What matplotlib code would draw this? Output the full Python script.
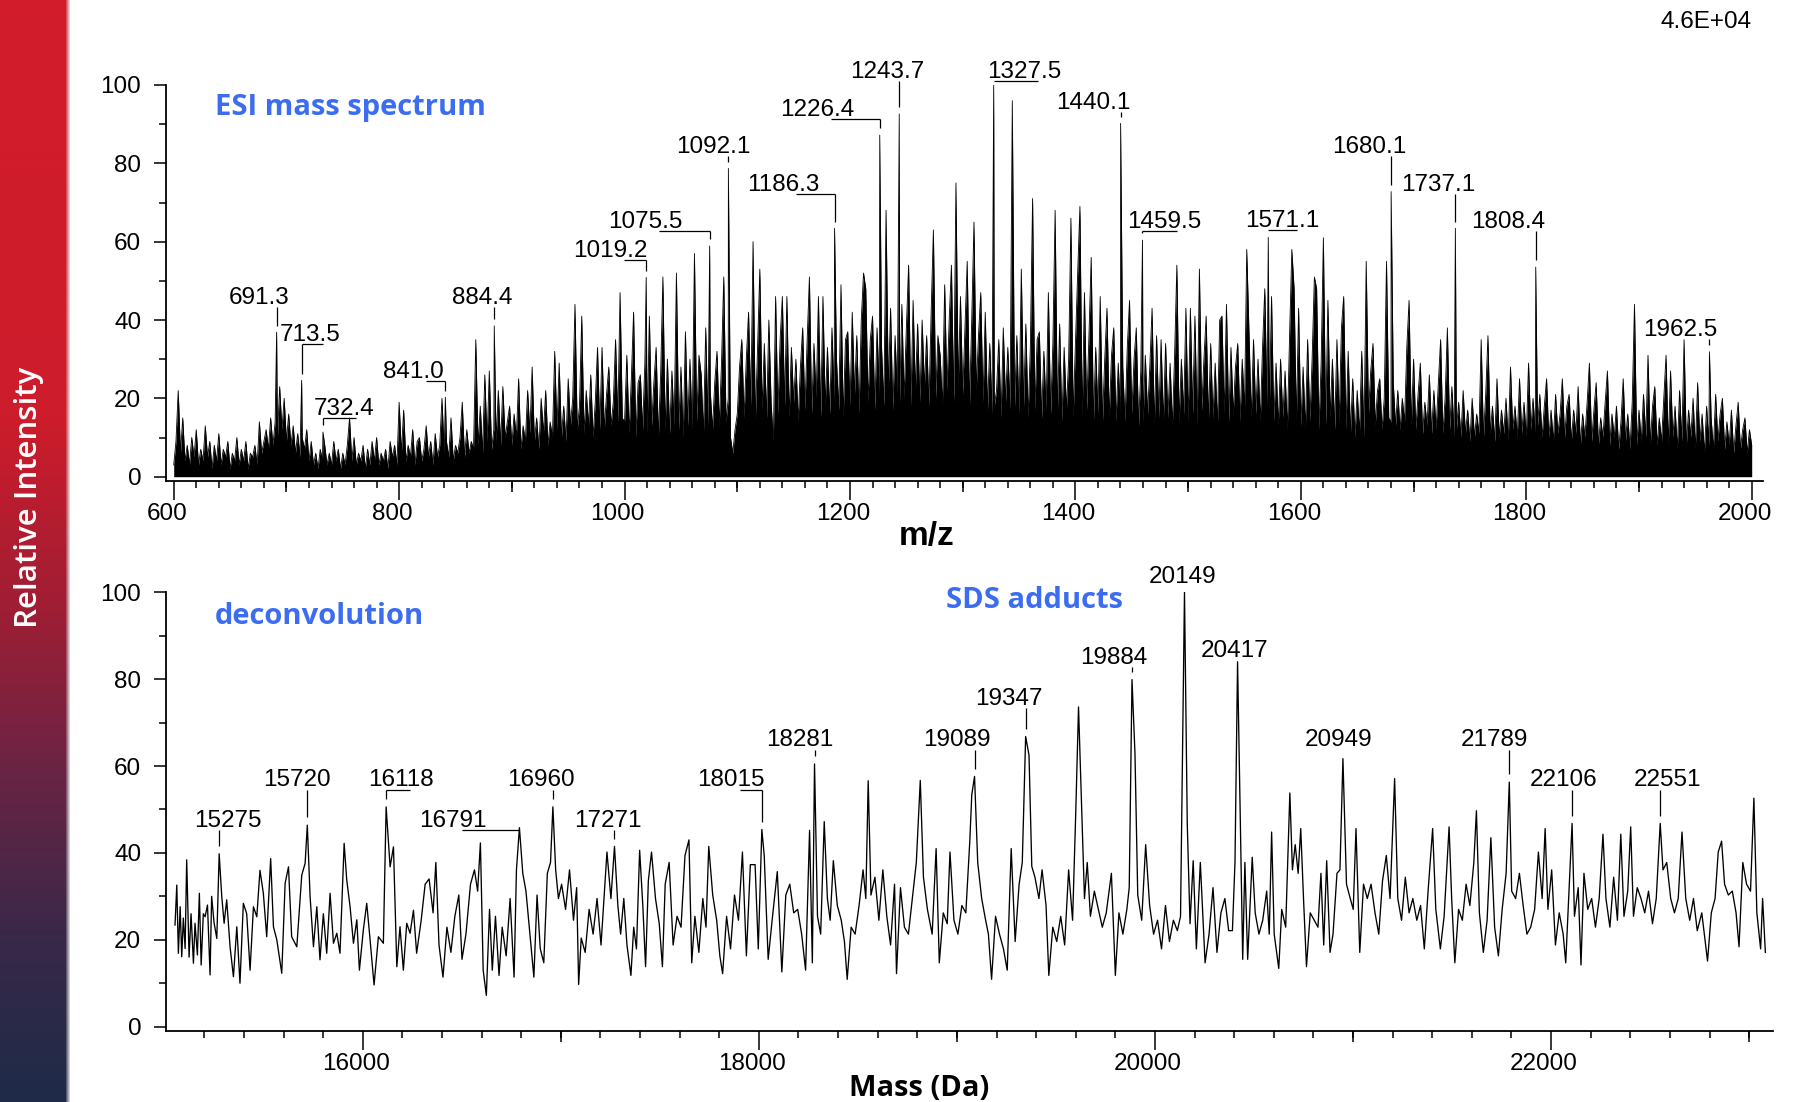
import numpy as np
import matplotlib
matplotlib.use("Agg")
import matplotlib.pyplot as plt
from matplotlib.colors import LinearSegmentedColormap
from matplotlib.ticker import MultipleLocator, FixedLocator
from matplotlib.transforms import ScaledTranslation

plt.rcParams["font.family"] = ["Liberation Sans", "DejaVu Sans"]

# ---------------- ESI mass spectrum (profile, 2 m/z sampling from 600) ----------------
esi_mz_start = 600
esi_mz_step = 2
esi_intensity = [
    3, 9, 22, 6, 15, 4, 8, 3, 10, 5,        # 600
    12, 3, 7, 4, 13, 5, 9, 2, 8, 4,         # 620
    11, 3, 7, 5, 9, 2, 6, 4, 10, 3,         # 640
    7, 4, 9, 2, 6, 5, 8, 3, 14, 6,          # 660
    9, 12, 7, 15, 8, 14, 10, 23, 12, 20,    # 680
    9, 16, 8, 13, 6, 11, 5, 10, 7, 12,      # 700
    4, 9, 3, 6, 2, 7, 4, 8, 3, 6,           # 720
    3, 9, 4, 7, 2, 6, 3, 8, 15, 4,          # 740
    10, 3, 6, 4, 8, 2, 7, 3, 9, 4,          # 760
    10, 3, 6, 4, 7, 2, 9, 5, 8, 3,          # 780
    19, 6, 17, 4, 8, 5, 12, 3, 9, 10,       # 800
    4, 7, 13, 5, 9, 3, 11, 5, 8, 20,        # 820
    6, 9, 5, 15, 4, 8, 6, 10, 19, 5,        # 840
    12, 6, 9, 7, 35, 8, 18, 6, 26, 9,       # 860
    27, 7, 12, 9, 22, 8, 23, 10, 14, 18,    # 880
    8, 16, 10, 25, 7, 13, 9, 22, 11, 28,    # 900
    9, 15, 7, 20, 11, 22, 8, 14, 10, 32,    # 920
    12, 29, 10, 18, 9, 25, 13, 20, 44, 12,  # 940
    18, 41, 11, 22, 13, 26, 10, 19, 33, 12, # 960
    33, 12, 21, 28, 13, 19, 35, 14, 47, 15, # 980
    14, 31, 11, 25, 42, 10, 24, 26, 12, 29, # 1000
    11, 41, 13, 24, 33, 10, 26, 51, 12, 30, # 1020
    11, 27, 13, 52, 12, 28, 10, 37, 13, 30, # 1040
    12, 57, 14, 31, 26, 11, 38, 13, 22, 12, # 1060
    24, 32, 13, 29, 51, 14, 20, 10, 6, 12,  # 1080
    16, 28, 35, 15, 30, 42, 18, 60, 14, 33, # 1100
    53, 17, 34, 15, 40, 19, 9, 46, 16, 35,  # 1120
    46, 18, 46, 15, 33, 19, 30, 14, 28, 38, # 1140
    17, 35, 51, 16, 34, 20, 46, 15, 46, 18, # 1160
    33, 16, 38, 19, 30, 17, 49, 15, 35, 37, # 1180
    18, 42, 21, 36, 16, 40, 52, 48, 19, 35, # 1200
    41, 17, 38, 21, 33, 18, 68, 22, 43, 17, # 1220
    36, 21, 19, 44, 20, 38, 54, 18, 45, 22, # 1240
    39, 19, 40, 23, 36, 18, 42, 63, 20, 36, # 1260
    31, 18, 49, 22, 40, 54, 19, 75, 23, 46, # 1280
    21, 38, 55, 18, 40, 65, 22, 36, 47, 19, # 1300
    42, 17, 34, 16, 18, 22, 35, 15, 38, 19, # 1320
    33, 17, 96, 18, 36, 16, 53, 18, 39, 15, # 1340
    33, 71, 17, 35, 37, 15, 32, 17, 47, 16, # 1360
    34, 68, 16, 39, 14, 33, 17, 30, 66, 15, # 1380
    34, 52, 69, 15, 47, 17, 36, 56, 14, 33, # 1400
    16, 46, 14, 30, 43, 15, 31, 38, 14, 29, # 1420
    15, 28, 14, 33, 45, 16, 30, 38, 13, 27, # 1440
    14, 31, 16, 28, 43, 13, 36, 15, 35, 14, # 1460
    34, 15, 29, 13, 31, 54, 14, 30, 16, 43, # 1480
    14, 43, 16, 41, 13, 53, 17, 30, 41, 14, # 1500
    34, 15, 29, 13, 40, 41, 16, 44, 14, 33, # 1520
    16, 28, 34, 14, 30, 17, 58, 37, 15, 35, # 1540
    16, 30, 14, 33, 48, 18, 17, 46, 14, 29, # 1560
    13, 30, 15, 27, 12, 36, 58, 48, 14, 43, # 1580
    13, 28, 12, 35, 14, 30, 51, 48, 12, 29, # 1600
    61, 13, 45, 15, 30, 12, 35, 14, 38, 46, # 1620
    12, 32, 11, 25, 10, 22, 11, 32, 10, 55, # 1640
    16, 27, 34, 13, 22, 25, 12, 20, 55, 15, # 1660
    14, 24, 13, 22, 12, 20, 14, 33, 45, 13, # 1680
    30, 12, 21, 29, 11, 19, 13, 26, 11, 22, # 1700
    12, 24, 35, 11, 20, 38, 12, 23, 10, 12, # 1720
    19, 10, 22, 11, 17, 9, 20, 10, 16, 11,  # 1740
    35, 10, 21, 36, 11, 18, 9, 25, 10, 17,  # 1760
    11, 20, 9, 28, 12, 18, 10, 25, 11, 19,  # 1780
    10, 29, 12, 20, 11, 13, 21, 10, 18, 25, # 1800
    10, 17, 9, 21, 11, 16, 25, 10, 18, 21,  # 1820
    9, 17, 11, 23, 8, 16, 10, 19, 29, 9,    # 1840
    17, 24, 8, 15, 10, 19, 27, 8, 16, 10,   # 1860
    18, 7, 14, 25, 9, 16, 7, 19, 44, 8,     # 1880
    17, 9, 21, 10, 31, 8, 18, 23, 8, 15,    # 1900
    9, 20, 31, 8, 27, 10, 18, 7, 22, 9,     # 1920
    35, 8, 17, 10, 20, 7, 24, 9, 16, 6,     # 1940
    18, 8, 15, 7, 21, 9, 16, 20, 7, 14,     # 1960
    8, 17, 6, 13, 19, 7, 12, 15, 6, 12,     # 1980
    8,                                      # 2000
]

# annotated ESI peaks
esi_peak_mz = [691.3, 713.5, 732.4, 841.0, 884.4, 1019.2, 1075.5, 1092.1, 1186.3,
               1226.4, 1243.7, 1327.5, 1440.1, 1459.5, 1571.1, 1680.1, 1737.1,
               1808.4, 1962.5]
esi_peak_int = [36.9, 24.6, 11.4, 20.3, 38.5, 50.9, 58.9, 78.7, 63.4,
                87.2, 92.6, 100.0, 90.2, 60.4, 61.1, 72.8, 63.4,
                53.5, 31.9]

# ---------------- deconvoluted spectrum ----------------
deconv_mass = [
    15052, 15061, 15069, 15078, 15086, 15094, 15103, 15111, 15123, 15133,
    15145, 15153, 15165, 15175, 15184, 15195, 15204, 15216, 15229, 15237,
    15249, 15263, 15288, 15300, 15313, 15330, 15347, 15364, 15380, 15397,
    15414, 15431, 15448, 15465, 15481, 15498, 15515, 15535, 15549, 15566,
    15591, 15608, 15625, 15641, 15667, 15692, 15709, 15734, 15751, 15768,
    15784, 15801, 15818, 15835, 15852, 15869, 15885, 15906, 15919, 15936,
    15953, 15970, 15983, 16003, 16020, 16037, 16057, 16079, 16104, 16138,
    16155, 16172, 16188, 16205, 16222, 16239, 16256, 16272, 16295, 16315,
    16335, 16355, 16369, 16385, 16405, 16425, 16445, 16465, 16485, 16501,
    16521, 16544, 16564, 16580, 16594, 16608, 16624, 16640, 16654, 16670,
    16688, 16704, 16724, 16744, 16764, 16776, 16808, 16824, 16844, 16864,
    16880, 16896, 16914, 16932, 16948, 16974, 16988, 17004, 17024, 17044,
    17064, 17080, 17090, 17103, 17123, 17143, 17163, 17183, 17203, 17233,
    17253, 17288, 17302, 17318, 17334, 17354, 17368, 17382, 17398, 17414,
    17428, 17442, 17458, 17478, 17497, 17513, 17527, 17547, 17567, 17587,
    17607, 17627, 17647, 17661, 17677, 17697, 17717, 17733, 17747, 17767,
    17787, 17803, 17817, 17837, 17857, 17877, 17897, 17917, 17937, 17957,
    17981, 17997, 18027, 18047, 18067, 18093, 18116, 18136, 18156, 18176,
    18196, 18216, 18236, 18256, 18270, 18296, 18312, 18330, 18346, 18360,
    18376, 18396, 18416, 18432, 18446, 18466, 18486, 18506, 18526, 18540,
    18552, 18566, 18586, 18606, 18626, 18646, 18665, 18685, 18695, 18715,
    18735, 18755, 18775, 18795, 18815, 18831, 18851, 18875, 18895, 18911,
    18931, 18951, 18965, 18985, 19005, 19025, 19045, 19065, 19075, 19105,
    19125, 19145, 19159, 19175, 19195, 19215, 19235, 19254, 19274, 19294,
    19314, 19330, 19364, 19378, 19394, 19414, 19430, 19450, 19464, 19484,
    19504, 19524, 19544, 19564, 19584, 19600, 19614, 19630, 19644, 19658,
    19674, 19694, 19714, 19734, 19754, 19780, 19800, 19818, 19838, 19858,
    19870, 19899, 19913, 19933, 19953, 19973, 19993, 20013, 20033, 20053,
    20073, 20093, 20113, 20129, 20163, 20177, 20193, 20209, 20229, 20253,
    20273, 20293, 20313, 20333, 20353, 20372, 20391, 20404, 20429, 20443,
    20454, 20468, 20491, 20506, 20525, 20544, 20564, 20577, 20589, 20602,
    20625, 20640, 20660, 20681, 20694, 20708, 20723, 20736, 20750, 20765,
    20784, 20804, 20823, 20838, 20852, 20867, 20884, 20899, 20919, 20934,
    20967, 20986, 21001, 21015, 21034, 21053, 21072, 21091, 21111, 21130,
    21149, 21168, 21187, 21210, 21226, 21245, 21264, 21283, 21302, 21322,
    21341, 21360, 21379, 21402, 21418, 21441, 21460, 21485, 21498, 21514,
    21533, 21552, 21571, 21590, 21610, 21623, 21638, 21658, 21677, 21696,
    21715, 21734, 21753, 21773, 21801, 21821, 21840, 21859, 21878, 21897,
    21917, 21936, 21955, 21970, 21984, 22003, 22022, 22041, 22061, 22074,
    22089, 22118, 22137, 22151, 22166, 22185, 22205, 22224, 22243, 22262,
    22277, 22297, 22316, 22335, 22352, 22368, 22387, 22402, 22416, 22435,
    22454, 22473, 22492, 22512, 22531, 22565, 22584, 22604, 22623, 22642,
    22661, 22680, 22700, 22719, 22738, 22761, 22790, 22809, 22828, 22844,
    22861, 22876, 22895, 22915, 22934, 22949, 22968, 22987, 23007, 23024,
    23039, 23058, 23068, 23082,
]
deconv_int = [
    23.4, 32.6, 16.9, 27.6, 16.1, 25.0, 18.0, 38.4, 16.0, 26.0,
    14.6, 23.8, 16.5, 30.7, 14.2, 26.0, 25.3, 28.0, 11.9, 30.0,
    24.0, 20.3, 30.0, 23.8, 29.2, 18.4, 11.5, 23.0, 10.0, 28.4,
    26.0, 13.0, 27.6, 25.3, 36.0, 30.7, 20.7, 38.7, 23.0, 20.0,
    12.3, 33.0, 36.8, 20.7, 18.4, 34.9, 37.6, 30.0, 18.4, 27.6,
    15.4, 26.0, 16.9, 30.7, 19.2, 21.5, 16.9, 42.2, 33.8, 27.6,
    19.2, 24.6, 13.0, 22.3, 28.4, 20.0, 9.6, 20.7, 19.2, 36.8,
    41.4, 13.8, 23.0, 13.0, 23.8, 21.5, 26.8, 16.9, 24.5, 32.8,
    34.0, 26.2, 37.8, 18.8, 11.4, 22.9, 17.1, 25.4, 30.3, 15.5,
    21.3, 32.8, 36.1, 31.2, 42.3, 13.0, 7.2, 27.0, 13.0, 25.4,
    11.8, 22.9, 16.3, 29.5, 11.4, 36.1, 35.3, 31.2, 21.3, 11.4,
    30.3, 18.0, 14.7, 35.3, 37.8, 36.1, 29.5, 32.8, 27.0, 36.1,
    24.5, 32.0, 9.7, 20.4, 17.1, 27.0, 21.3, 29.5, 18.8, 40.2,
    29.5, 27.9, 21.3, 29.5, 18.8, 11.8, 22.9, 17.9, 40.6, 27.9,
    13.8, 33.6, 40.2, 29.5, 23.7, 13.8, 32.8, 37.8, 18.8, 25.4,
    22.9, 39.4, 43.0, 14.7, 25.4, 17.1, 29.5, 22.9, 41.5, 30.3,
    24.5, 16.3, 12.2, 25.4, 17.9, 30.3, 24.5, 40.2, 16.3, 37.3,
    37.3, 17.9, 39.4, 15.5, 24.5, 35.7, 12.6, 30.3, 32.8, 26.2,
    27.0, 21.3, 13.0, 45.2, 14.7, 25.4, 21.3, 47.2, 29.5, 24.5,
    38.2, 27.9, 24.5, 19.6, 10.9, 22.9, 21.3, 27.9, 36.1, 29.5,
    56.6, 30.3, 34.4, 24.5, 36.1, 25.4, 18.8, 32.8, 12.2, 32.0,
    22.9, 21.3, 29.5, 37.8, 56.7, 34.4, 27.0, 21.3, 41.0, 14.7,
    26.2, 23.7, 40.2, 24.5, 21.3, 27.9, 26.2, 42.7, 53.4, 37.8,
    29.5, 24.5, 21.3, 10.9, 25.4, 21.3, 17.9, 13.0, 41.0, 19.6,
    32.8, 37.8, 62.5, 36.9, 34.4, 29.5, 36.1, 27.9, 11.8, 22.9,
    19.6, 25.4, 18.8, 36.1, 24.5, 49.3, 73.6, 50.1, 29.5, 37.8,
    25.4, 31.2, 27.0, 22.9, 26.2, 35.3, 11.8, 26.2, 21.3, 27.0,
    32.0, 62.9, 30.3, 24.5, 41.9, 27.9, 21.3, 24.5, 17.9, 27.9,
    19.6, 24.5, 22.1, 25.4, 46.8, 23.7, 38.2, 17.9, 37.8, 14.7,
    21.3, 32.0, 17.1, 26.2, 29.5, 22.1, 22.1, 37.8, 51.8, 15.5,
    37.8, 15.5, 39.0, 26.2, 21.3, 24.5, 31.2, 21.3, 44.8, 21.3,
    13.4, 27.0, 22.9, 53.8, 36.1, 41.9, 35.3, 45.6, 29.5, 13.8,
    26.2, 24.5, 22.9, 35.3, 18.8, 38.2, 17.1, 21.3, 35.3, 36.1,
    32.8, 29.5, 27.0, 45.6, 17.1, 32.8, 29.5, 32.8, 26.2, 21.3,
    33.6, 39.4, 29.5, 57.1, 29.5, 24.5, 34.4, 26.2, 29.5, 24.5,
    27.9, 17.9, 31.2, 45.6, 27.0, 17.9, 25.4, 46.0, 29.5, 14.7,
    27.0, 24.5, 32.8, 27.9, 37.8, 49.7, 26.2, 17.1, 24.5, 43.5,
    22.9, 16.3, 27.0, 35.3, 31.2, 29.5, 35.3, 27.9, 21.3, 22.9,
    27.0, 40.2, 29.5, 45.6, 27.0, 36.1, 18.8, 26.2, 21.3, 14.7,
    29.5, 25.4, 32.0, 14.2, 35.3, 27.0, 29.5, 22.9, 29.5, 44.3,
    29.5, 22.9, 34.4, 24.5, 44.3, 25.4, 31.2, 46.0, 25.4, 32.0,
    29.5, 26.2, 31.2, 23.7, 29.5, 36.1, 37.8, 29.5, 26.2, 29.5,
    44.8, 29.5, 24.5, 29.5, 22.1, 26.2, 15.1, 26.2, 29.5, 40.2,
    42.7, 32.8, 30.3, 31.2, 26.2, 18.4, 37.8, 32.8, 31.2, 52.6,
    26.2, 17.9, 29.5, 17.1,
]

# annotated deconvoluted masses
deconv_peak_mass = [15275, 15720, 16118, 16791, 16960, 17271, 18015, 18281, 19089,
                    19347, 19884, 20149, 20417, 20949, 21789, 22106, 22551]
deconv_peak_int = [39.8, 46.4, 50.6, 45.8, 50.6, 41.5, 45.4, 60.5, 57.6,
                   66.8, 79.9, 100.0, 84.0, 61.7, 56.3, 46.8, 46.8]

# ---------------- annotation placement ----------------
esi_text_x = [675.4, 720.9, 751.5, 812.6, 873.7, 987.5, 1018.4, 1078.4, 1140.9,
              1171.4, 1232.8, 1354.8, 1415.5, 1478.4, 1583.9, 1660.6, 1722.1,
              1784.3, 1936.3]
esi_text_y = [44.2, 34.6, 15.7, 25.2, 44.2, 56.0, 63.4, 82.7, 73.0,
              92.1, 101.7, 101.7, 94.0, 63.4, 63.8, 82.6, 73.0,
              63.4, 35.9]
esi_bracket_to = [691.3, 732.1, 761.7, 823.5, 884.4, 999.5, 1030.3, 1092.1, 1152.1,
                  1182.9, 1243.7, 1367.1, 1440.1, 1490.0, 1596.6, 1680.1, 1737.1,
                  1808.4, 1962.5]

deconv_text_x = [15321, 15670, 16195, 16456, 16900, 17238, 17861, 18208, 19001,
                 19264, 19790, 20137, 20401, 20929, 21716, 22063, 22586]
deconv_text_y = [46.0, 55.3, 55.3, 46.0, 55.3, 46.0, 55.3, 64.6, 64.6,
                 74.1, 83.6, 102.1, 85.2, 64.6, 64.6, 55.3, 55.3]
deconv_bracket_to = [15275, 15720, 16239, 16500, 16960, 17271, 17903, 18281, 19089,
                     19347, 19884, 20149, 20417, 20949, 21789, 22106, 22551]

# ---------------- figure ----------------
W, H = 1796, 1102
fig = plt.figure(figsize=(W / 100, H / 100), dpi=100)
PT = 72 / 100  # points per pixel


def fx(px):
    return px / W


def fy(py):
    return 1 - py / H


BLUE = "#3c6cf0"
LABEL_FS = 17.5
TICK_FS = 17.5
HUM_BOLD = ["Open Sans", "DejaVu Sans"]

# side band with vertical gradient
side_stops = [(0.00, "#d21c2b"), (0.38, "#cd1c2b"), (0.55, "#a01e34"),
              (0.70, "#6a2444"), (0.85, "#3a2849"), (1.00, "#1e2b48")]
side_cmap = LinearSegmentedColormap.from_list("side", side_stops)
nrow, ncol = 600, 70
grad = side_cmap(np.linspace(0, 1, nrow))[:, :3]
img = np.repeat(grad[:, None, :], ncol, axis=1)
edge = np.array([0.0] * (ncol - 4) + [0.25, 0.45, 0.65, 0.85])
img = img * (1 - edge[None, :, None]) + np.array([0.93, 0.93, 0.94]) * edge[None, :, None]
ax_side = fig.add_axes([0, 0, fx(70), 1])
ax_side.imshow(img, aspect="auto", interpolation="bilinear")
ax_side.set_axis_off()
fig.text(fx(29.5), fy(497.5), "Relative Intensity", rotation=90, color="white",
         fontsize=22.5, family=HUM_BOLD, fontweight="semibold",
         ha="center", va="center")


def style_axes(ax, major, mid, minor_step, xlim, ylim):
    ax.set_xlim(*xlim)
    ax.set_ylim(*ylim)
    for s in ("top", "right"):
        ax.spines[s].set_visible(False)
    for s in ("left", "bottom"):
        ax.spines[s].set_linewidth(1.3)
    ax.xaxis.set_major_locator(FixedLocator(major))
    ax.xaxis.set_minor_locator(MultipleLocator(minor_step))
    ax.yaxis.set_major_locator(MultipleLocator(20))
    ax.yaxis.set_minor_locator(MultipleLocator(10))
    ax.tick_params(axis="x", which="major", direction="out", length=19 * PT, width=1.1,
                   pad=2.5, labelsize=TICK_FS)
    ax.tick_params(axis="x", which="minor", direction="out", length=7 * PT, width=1.1)
    ax.tick_params(axis="y", which="major", direction="out", length=12 * PT, width=1.1,
                   pad=9, labelsize=TICK_FS)
    ax.tick_params(axis="y", which="minor", direction="out", length=7 * PT, width=1.1)
    sec = ax.secondary_xaxis("bottom")
    sec.set_xticks(mid)
    sec.tick_params(axis="x", which="major", direction="out", length=11.5 * PT,
                    width=1.1, labelbottom=False)
    sec.spines["bottom"].set_visible(False)


def annotate(ax, xs, ys, tx, ty, bto, fmt, gap):
    for x, y, t_x, t_y, b in zip(xs, ys, tx, ty, bto):
        ax.text(t_x, t_y, fmt(x), ha="center", va="baseline", fontsize=LABEL_FS)
        top = t_y - 0.8
        if abs(b - x) > 1e-6:
            ax.plot([x, b], [top, top], color="black", lw=0.9, clip_on=False,
                    solid_capstyle="butt")
        bottom = y + gap
        if top - bottom > 0.3:
            ax.plot([x, x], [top, bottom], color="black", lw=0.9, clip_on=False,
                    solid_capstyle="butt")


# ---- top panel: ESI spectrum ----
ax1 = fig.add_axes([fx(165.7), fy(480.7), fx(1597.6), 395.7 / H])
grid_mz = esi_mz_start + esi_mz_step * np.arange(len(esi_intensity))
mz_all = np.concatenate([grid_mz, esi_peak_mz])
int_all = np.concatenate([esi_intensity, esi_peak_int])
order = np.argsort(mz_all)
mz_all, int_all = mz_all[order], int_all[order]
ax1.fill_between(mz_all, 0, int_all, color="black", lw=0)
ax1.plot(mz_all, int_all, color="black", lw=0.6)
style_axes(ax1, list(range(600, 2001, 200)), list(range(700, 2000, 200)), 20,
           (592.9, 2010.3), (-1.02, 100))
annotate(ax1, esi_peak_mz, esi_peak_int, esi_text_x, esi_text_y, esi_bracket_to,
         lambda v: f"{v:.1f}", 1.7)

# ---- bottom panel: deconvolution ----
ax2 = fig.add_axes([fx(165.7), fy(1031.0), fx(1607.0), 438.7 / H])
m_all = np.concatenate([deconv_mass, deconv_peak_mass])
i_all = np.concatenate([deconv_int, deconv_peak_int])
order = np.argsort(m_all)
ax2.plot(m_all[order], i_all[order], color="black", lw=0.95)
style_axes(ax2, [16000, 18000, 20000, 22000], [17000, 19000, 21000, 23000], 200,
           (15005, 23119), (-1.0, 100))
annotate(ax2, deconv_peak_mass, deconv_peak_int, deconv_text_x, deconv_text_y,
         deconv_bracket_to, lambda v: f"{v:d}", 1.8)

# ---- titles and axis captions ----
for px, py, txt in [(215, 115, "ESI mass spectrum"), (215, 624, "deconvolution"),
                    (946, 608, "SDS adducts")]:
    fig.text(fx(px), fy(py), txt, color=BLUE, fontsize=21.0, fontweight="bold",
             family=HUM_BOLD, ha="left", va="baseline")
fig.text(fx(927), fy(545), "m/z", fontsize=24, fontweight="bold",
         ha="center", va="baseline")
fig.text(fx(918.7), fy(1095.6), "Mass (Da)", fontsize=21, fontweight="bold",
         family=HUM_BOLD, ha="center", va="baseline")
fig.text(fx(1705.7), fy(28.3), "4.6E+04", fontsize=17.5, ha="center", va="baseline")

# x tick labels sit slightly left of their tick marks
fig.canvas.draw()
shift = ScaledTranslation(-7 / 100, 0, fig.dpi_scale_trans)
for ax in (ax1, ax2):
    for tick in ax.xaxis.get_major_ticks():
        tick.label1.set_transform(tick.label1.get_transform() + shift)

fig.savefig("out.png", dpi=100)
